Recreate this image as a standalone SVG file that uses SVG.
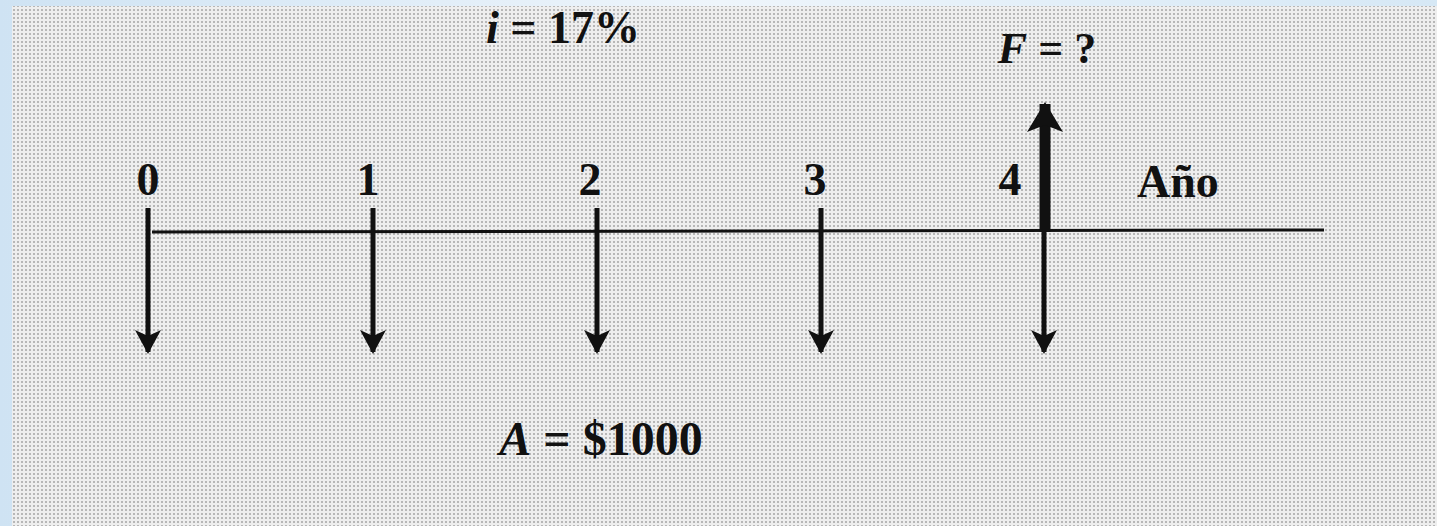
<svg xmlns="http://www.w3.org/2000/svg" width="1437" height="526" viewBox="0 0 1437 526">
  <defs>
    <pattern id="dots" width="4" height="4" patternUnits="userSpaceOnUse">
      <rect width="4" height="4" fill="#eeeeee"/>
      <circle cx="2" cy="2" r="0.75" fill="#666"/>
    </pattern>
    <linearGradient id="edge" x1="0" y1="0" x2="1" y2="0">
      <stop offset="0" stop-color="#cfe3f3"/>
      <stop offset="0.5" stop-color="#eef5fb"/>
      <stop offset="1" stop-color="#d6e8f5"/>
    </linearGradient>
    <marker id="head" viewBox="0 0 24 26" refX="22" refY="13" markerWidth="24" markerHeight="26" markerUnits="userSpaceOnUse" orient="auto">
      <path d="M0,0 L6,13 L0,26 L24,13 Z" fill="#111"/>
    </marker>
    <marker id="bighead" viewBox="0 0 30 36" refX="28" refY="18" markerWidth="30" markerHeight="36" markerUnits="userSpaceOnUse" orient="auto">
      <path d="M0,0 L7,18 L0,36 L30,18 Z" fill="#111"/>
    </marker>
  </defs>
  <style>
    .lbl { font-family: "Liberation Serif", "Times New Roman", serif; font-weight: bold; fill: #111; }
    .it { font-style: italic; }
    .flow { stroke: #111; stroke-width: 5; fill: none; }
    .axis { stroke: #111; stroke-width: 3; fill: none; }
  </style>

  <rect x="0" y="0" width="1437" height="526" fill="url(#edge)"/>
  <rect x="12" y="6" width="1425" height="520" fill="url(#dots)"/>

  <g id="axis">
    <line class="axis" x1="152" y1="232" x2="1324" y2="230"/>
  </g>

  <g id="connectors">
    <line class="flow" x1="148" y1="208" x2="148" y2="352" marker-end="url(#head)"/>
    <line class="flow" x1="373" y1="208" x2="373" y2="352" marker-end="url(#head)"/>
    <line class="flow" x1="597" y1="208" x2="597" y2="352" marker-end="url(#head)"/>
    <line class="flow" x1="821" y1="208" x2="821" y2="352" marker-end="url(#head)"/>
    <line class="flow" x1="1044" y1="232" x2="1044" y2="352" marker-end="url(#head)"/>
    <line x1="1045" y1="232" x2="1045" y2="104" stroke="#111" stroke-width="11" marker-end="url(#bighead)"/>
  </g>

  <g id="rate"><text class="lbl" x="563" y="43" font-size="46" text-anchor="middle"><tspan class="it">i</tspan> = 17%</text></g>
  <g id="future"><text class="lbl" x="1047" y="63" font-size="44" text-anchor="middle"><tspan class="it">F</tspan> = ?</text></g>
  <g id="t0"><text class="lbl" x="148" y="195" font-size="46" text-anchor="middle">0</text></g>
  <g id="t1"><text class="lbl" x="368" y="195" font-size="46" text-anchor="middle">1</text></g>
  <g id="t2"><text class="lbl" x="590" y="195" font-size="46" text-anchor="middle">2</text></g>
  <g id="t3"><text class="lbl" x="815" y="195" font-size="46" text-anchor="middle">3</text></g>
  <g id="t4"><text class="lbl" x="1010" y="195" font-size="46" text-anchor="middle">4</text></g>
  <g id="year"><text class="lbl" x="1137" y="197" font-size="46">Año</text></g>
  <g id="annuity"><text class="lbl" x="601" y="455" font-size="48" text-anchor="middle"><tspan class="it">A</tspan> = $1000</text></g>
</svg>
